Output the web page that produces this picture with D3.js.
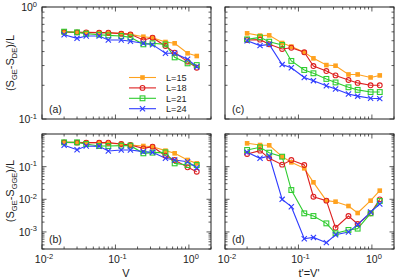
<!DOCTYPE html>
<html><head><meta charset="utf-8">
<script src="https://cdn.jsdelivr.net/npm/d3@7"></script>
<style>
body{margin:0;background:#fff;}
svg{display:block;font-family:"Liberation Sans",Arial,Helvetica,sans-serif;}
</style></head>
<body><svg id="c" width="395" height="280"></svg>
<script>
const xVals = [0.02,0.03,0.04,0.06,0.08,0.12,0.16,0.24,0.32,0.48,0.64,0.96,1.28];
const seriesNames = ["L=15","L=18","L=21","L=24"];
const seriesColors = ["#ffa21f","#dd2020","#2fcc2f","#2f3cff"];
const seriesMarkers = ["fsquare","circle","square","cross"];

const panelA = [
  [0.598,0.594,0.59,0.59,0.586,0.582,0.570,0.543,0.532,0.487,0.474,0.386,0.365],
  [0.598,0.594,0.594,0.59,0.59,0.578,0.570,0.507,0.532,0.449,0.391,0.325,0.287],
  [0.602,0.594,0.578,0.566,0.558,0.551,0.536,0.464,0.474,0.464,0.355,0.314,0.303],
  [0.566,0.525,0.551,0.551,0.507,0.507,0.494,0.474,0.461,0.386,0.386,0.341,0.293]
];
const panelB = [
  [0.555,0.555,0.543,0.543,0.518,0.494,0.460,0.429,0.409,0.309,0.256,0.160,0.126],
  [0.555,0.543,0.543,0.543,0.543,0.494,0.460,0.364,0.409,0.217,0.160,0.095,0.070],
  [0.555,0.555,0.494,0.429,0.429,0.439,0.439,0.256,0.268,0.274,0.126,0.112,0.112],
  [0.450,0.331,0.429,0.419,0.301,0.324,0.324,0.288,0.274,0.180,0.160,0.142,0.093]
];
const panelC = [
  [0.582,0.555,0.558,0.477,0.443,0.394,0.348,0.303,0.299,0.250,0.250,0.235,0.245],
  [0.507,0.511,0.464,0.422,0.433,0.394,0.297,0.268,0.245,0.223,0.210,0.200,0.200],
  [0.514,0.536,0.490,0.458,0.330,0.274,0.256,0.228,0.212,0.192,0.182,0.174,0.174],
  [0.500,0.452,0.464,0.306,0.287,0.235,0.220,0.198,0.185,0.167,0.160,0.153,0.152]
];
const panelD = [
  [0.518,0.460,0.450,0.202,0.1355,0.0888,0.0331,0.00907,0.00845,0.00622,0.0038,0.00907,0.0184],
  [0.244,0.309,0.180,0.115,0.160,0.112,0.0120,0.00907,0.00135,0.00307,0.00175,0.00371,0.00996],
  [0.324,0.391,0.268,0.202,0.0192,0.00371,0.00307,0.00183,0.00091,0.00115,0.00126,0.00371,0.00886],
  [0.274,0.180,0.212,0.00996,0.00594,0.00062,0.00068,0.00047,0.00082,0.00099,0.00167,0.00407,0.00717]
];
const xTickExps = [-2,-1,0];
const yTickExpsTop = [-1,0];
const yTickExpsBottom = [-3,-2,-1];
const panelLabels = ["(a)","(b)","(c)","(d)"];

const svg = d3.select("#c");
const xDomain = [0.01, 2];
const yDomTop = [0.1, 1];
const yDomBot = [3e-4, 1];

const panels = [
  {data:panelA, x0:42, x1:211, y0:7, y1:119, ydom:yDomTop, yexp:yTickExpsTop, lab:panelLabels[0], left:true, bottom:false, legend:true},
  {data:panelB, x0:42, x1:211, y0:134, y1:249, ydom:yDomBot, yexp:yTickExpsBottom, lab:panelLabels[1], left:true, bottom:true},
  {data:panelC, x0:225, x1:394, y0:7, y1:119, ydom:yDomTop, yexp:yTickExpsTop, lab:panelLabels[2], left:false, bottom:false},
  {data:panelD, x0:225, x1:394, y0:134, y1:249, ydom:yDomBot, yexp:yTickExpsBottom, lab:panelLabels[3], left:false, bottom:true}
];

function minorTicks(dom){
  const out=[];
  const lo=Math.floor(Math.log10(dom[0])), hi=Math.ceil(Math.log10(dom[1]));
  for(let e=lo;e<=hi;e++){
    for(let m=1;m<10;m++){
      const v=m*Math.pow(10,e);
      if(v>=dom[0]*0.999 && v<=dom[1]*1.001) out.push({v, major:m===1});
    }
  }
  return out;
}

function drawMarker(g, type, x, y, color){
  if(type==="fsquare"){
    g.append("rect").attr("x",x-2.3).attr("y",y-2.3).attr("width",4.6).attr("height",4.6).attr("fill",color);
  } else if(type==="circle"){
    g.append("circle").attr("cx",x).attr("cy",y).attr("r",2.4).attr("fill","none").attr("stroke",color).attr("stroke-width",1.1);
  } else if(type==="square"){
    g.append("rect").attr("x",x-2.4).attr("y",y-2.4).attr("width",4.8).attr("height",4.8).attr("fill","none").attr("stroke",color).attr("stroke-width",1.1);
  } else {
    const s=2.6;
    g.append("path").attr("d",`M${x-s},${y-s}L${x+s},${y+s}M${x-s},${y+s}L${x+s},${y-s}`).attr("stroke",color).attr("stroke-width",1.1);
  }
}

function supLabel(sel, base, exp, x, y, anchor){
  const t = sel.append("text").attr("x",x).attr("y",y).attr("text-anchor",anchor)
    .attr("font-size",10.5).attr("fill","#222");
  t.append("tspan").text(base);
  t.append("tspan").attr("font-size",7.5).attr("dy",-4.5).text(exp);
  return t;
}

panels.forEach(p=>{
  const x = d3.scaleLog().domain(xDomain).range([p.x0,p.x1]);
  const y = d3.scaleLog().domain(p.ydom).range([p.y1,p.y0]);
  const g = svg.append("g");

  minorTicks(xDomain).forEach(t=>{
    const px=x(t.v), L=t.major?4.5:2.5;
    g.append("line").attr("x1",px).attr("x2",px).attr("y1",p.y1).attr("y2",p.y1-L).attr("stroke","#333").attr("stroke-width",0.8);
    g.append("line").attr("x1",px).attr("x2",px).attr("y1",p.y0).attr("y2",p.y0+L).attr("stroke","#333").attr("stroke-width",0.8);
  });
  minorTicks(p.ydom).forEach(t=>{
    const py=y(t.v), L=t.major?4.5:2.5;
    g.append("line").attr("y1",py).attr("y2",py).attr("x1",p.x0).attr("x2",p.x0+L).attr("stroke","#333").attr("stroke-width",0.8);
    g.append("line").attr("y1",py).attr("y2",py).attr("x1",p.x1).attr("x2",p.x1-L).attr("stroke","#333").attr("stroke-width",0.8);
  });
  g.append("rect").attr("x",p.x0).attr("y",p.y0).attr("width",p.x1-p.x0).attr("height",p.y1-p.y0)
    .attr("fill","none").attr("stroke","#222").attr("stroke-width",1);

  if(p.left){
    p.yexp.forEach(e=>{
      supLabel(svg, "10", String(e), 37, y(Math.pow(10,e))+4, "end");
    });
  }
  if(p.bottom){
    xTickExps.forEach(e=>{
      supLabel(svg, "10", String(e), x(Math.pow(10,e))+2, 263, "middle");
    });
  }

  const line = d3.line().x((d,i)=>x(xVals[i])).y(d=>y(d));
  p.data.forEach((s,k)=>{
    g.append("path").datum(s).attr("d",line).attr("fill","none").attr("stroke",seriesColors[k]).attr("stroke-width",1.1);
  });
  p.data.forEach((s,k)=>{
    s.forEach((v,i)=>drawMarker(g, seriesMarkers[k], x(xVals[i]), y(v), seriesColors[k]));
  });

  g.append("text").attr("x",p.x0+7).attr("y",p.y1-6).attr("font-size",10.5).attr("fill","#222").text(p.lab);

  if(p.legend){
    seriesNames.forEach((n,k)=>{
      const ly = 77.5 + k*10.4;
      g.append("line").attr("x1",129).attr("x2",156).attr("y1",ly).attr("y2",ly).attr("stroke",seriesColors[k]).attr("stroke-width",1.1);
      drawMarker(g, seriesMarkers[k], 142.5, ly, seriesColors[k]);
      g.append("text").attr("x",166).attr("y",ly+3.5).attr("font-size",9.2).attr("fill","#222").text(n);
    });
  }
});

function yLabel(cy, sub1, sub2){
  const t = svg.append("text").attr("transform",`translate(14,${cy}) rotate(-90)`)
    .attr("text-anchor","middle").attr("font-size",11).attr("fill","#222");
  t.append("tspan").text("(S");
  t.append("tspan").attr("font-size",7.5).attr("dy",2.5).text(sub1);
  t.append("tspan").attr("dy",-2.5).text("-S");
  t.append("tspan").attr("font-size",7.5).attr("dy",2.5).text(sub2);
  t.append("tspan").attr("dy",-2.5).text(")/L");
}
yLabel(63, "GE", "DE");
yLabel(191, "GE", "GGE");

svg.append("text").attr("x",126).attr("y",277).attr("text-anchor","middle").attr("font-size",11).attr("fill","#222").text("V");
svg.append("text").attr("x",309).attr("y",277).attr("text-anchor","middle").attr("font-size",11).attr("fill","#222").text("t'=V'");
</script></body></html>
